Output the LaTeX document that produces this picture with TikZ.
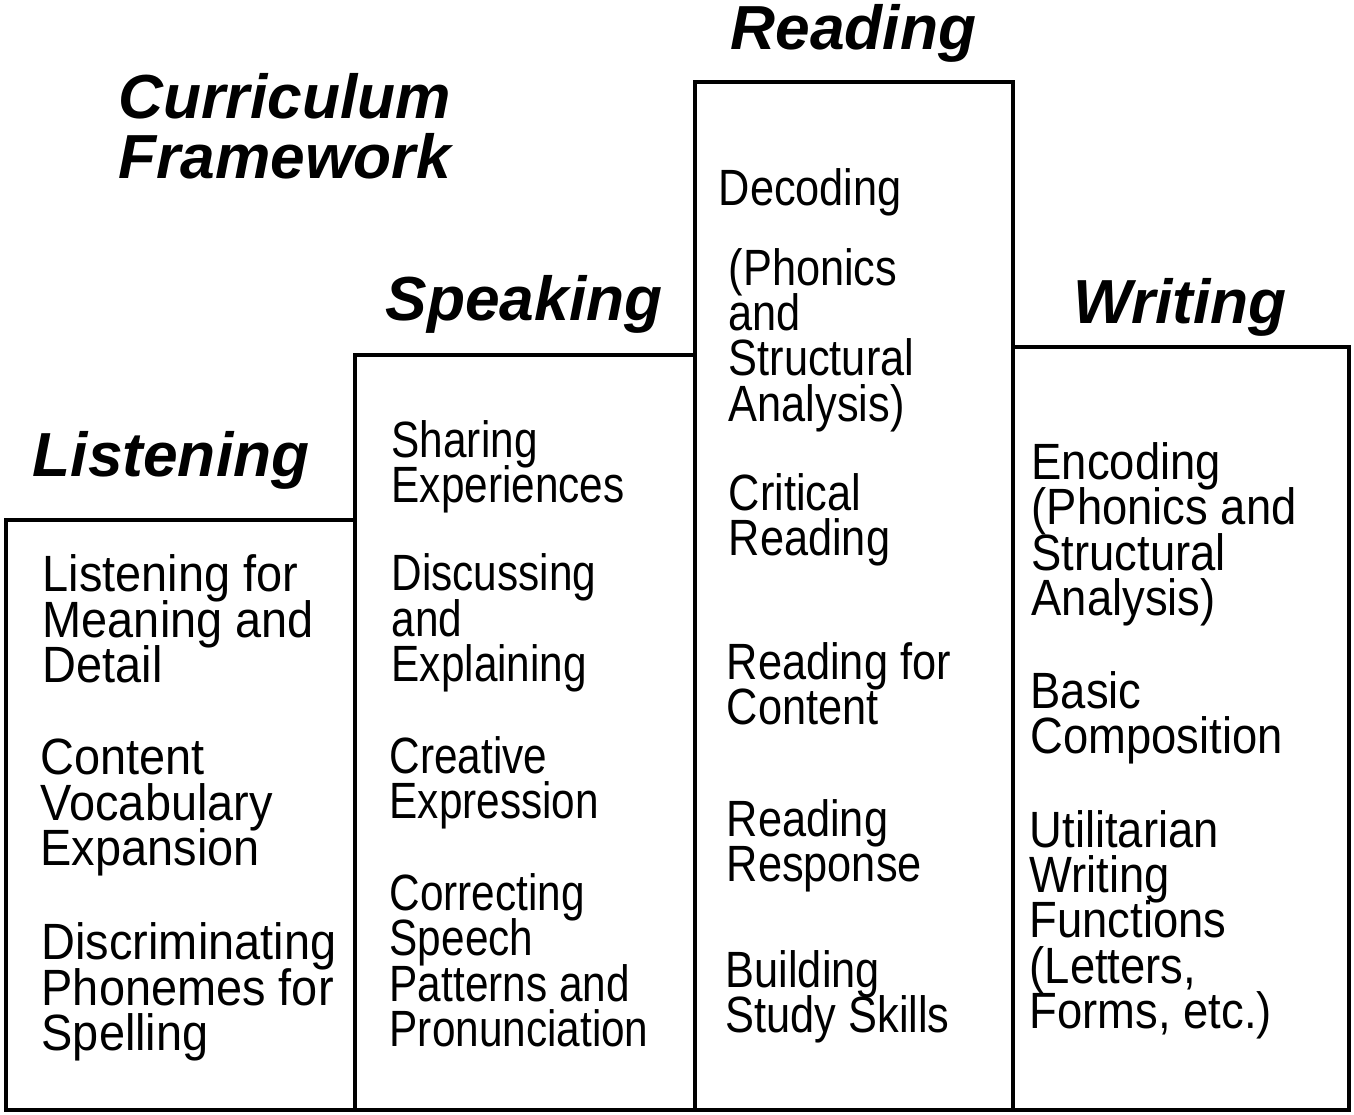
\documentclass[tikz,border=0pt]{standalone}
\usepackage{fontspec}
\setmainfont{Liberation Sans}
% each column is set a little narrower or wider
\newfontfamily\listenfont{Liberation Sans}[FakeStretch=0.92]
\newfontfamily\speakfont{Liberation Sans}[FakeStretch=0.83]
\newfontfamily\readfont{Liberation Sans}[FakeStretch=0.85]
\newfontfamily\writefont{Liberation Sans}[FakeStretch=0.89]
% keep the baselines evenly spaced
\setlength{\lineskiplimit}{-100pt}

\tikzset{
  column/.style={draw, line width=1.2pt},
  heading/.style={anchor=base west, inner sep=0pt, align=left,
    font=\fontsize{17.7}{17}\selectfont\bfseries\itshape},
  % anchor is the baseline of the last line
  topic/.style={anchor=base west, inner sep=0pt, align=left,
    font=#1\fontsize{14.5}{12.8}\selectfont},
}

\begin{document}
\begin{tikzpicture}[x=0.01cm, y=-0.01cm]

    \useasboundingbox (0,0) rectangle (1354,1114);

    % the four columns, each one taller than the last
    \draw[column] (6,520) rectangle (355,1110);
    \draw[column] (355,355) rectangle (695,1110);
    \draw[column] (695,82) rectangle (1013,1110);
    \draw[column] (1013,347) rectangle (1349,1110);

    % titles
    \node[heading] (title) at (118,178) {Curriculum\\Framework};
    \node[heading] (listening) at (32,476) {Listening};
    \node[heading] (speaking) at (385,320) {Speaking};
    \node[heading] (reading) at (730,49) {Reading};
    \node[heading] (writing) at (1073,323) {Writing};

    % listening
    \node[topic=\listenfont] (l1) at (42,682) {Listening for\\Meaning and\\Detail};
    \node[topic=\listenfont] (l2) at (40,865) {Content\\Vocabulary\\Expansion};
    \node[topic=\listenfont] (l3) at (41,1050) {Discriminating\\Phonemes for\\Spelling};

    % speaking
    \node[topic=\speakfont] (s1) at (391,502) {Sharing\\Experiences};
    \node[topic=\speakfont] (s2) at (391,681) {Discussing\\and\\Explaining};
    \node[topic=\speakfont] (s3) at (389,818) {Creative\\Expression};
    \node[topic=\speakfont] (s4) at (389,1046) {Correcting\\Speech\\Patterns and\\Pronunciation};

    % reading
    \node[topic=\readfont] (r1) at (718,205) {Decoding};
    \node[topic=\readfont] (r2) at (728,421) {(Phonics\\and\\Structural\\Analysis)};
    \node[topic=\readfont] (r3) at (728,555) {Critical\\Reading};
    \node[topic=\readfont] (r4) at (726,724) {Reading for\\Content};
    \node[topic=\readfont] (r5) at (726,881) {Reading\\Response};
    \node[topic=\readfont] (r6) at (725,1032) {Building\\Study Skills};

    % writing
    \node[topic=\writefont] (w1) at (1031,615) {Encoding\\(Phonics and\\Structural\\Analysis)};
    \node[topic=\writefont] (w2) at (1030,753) {Basic\\Composition};
    \node[topic=\writefont] (w3) at (1029,1028) {Utilitarian\\Writing\\Functions\\(Letters,\\Forms, etc.)};

\end{tikzpicture}
\end{document}
